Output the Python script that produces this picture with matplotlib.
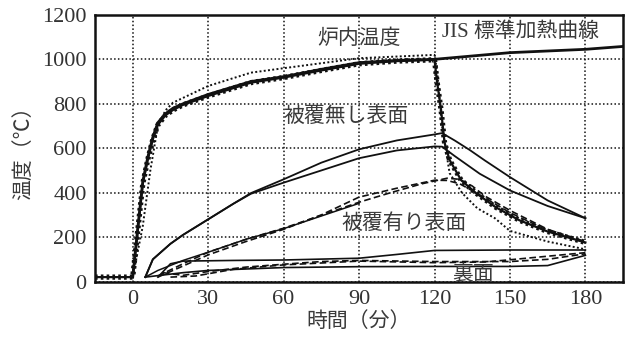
import matplotlib

matplotlib.use("Agg")
import matplotlib.pyplot as plt

plt.rcParams["font.family"] = ["Liberation Serif", "Noto Sans CJK JP", "DejaVu Sans"]

# JIS 標準加熱曲線
jis_t = [0, 2, 4, 6, 8, 10, 13, 16, 20, 30, 47, 60, 75, 90, 105, 120, 150, 180, 195]
jis_T = [20, 240, 450, 560, 650, 715, 755, 780, 800, 842, 900, 922, 955, 985, 995, 1000, 1030, 1045, 1058]

# 炉内温度 (熱電対1:太い点線)
fur1_t = [-15, 0, 2, 4, 6, 8, 10, 13, 16, 20, 30, 47, 60, 75, 90, 105, 120,
          121, 122.6, 124, 126, 130.6, 136.5, 144.4, 153.7, 165, 180]
fur1_T = [20, 20, 230, 440, 550, 640, 705, 748, 772, 795, 835, 895, 918, 950, 980, 992, 998,
          900, 773, 624, 547, 456, 398, 334, 276, 225, 176]

# 炉内温度 (熱電対2:点線)
fur2_t = [0, 4, 7, 10, 13, 16, 30, 47, 60, 90, 120, 121, 123, 126, 131, 137, 144, 150, 165, 180]
fur2_T = [20, 250, 500, 700, 770, 805, 880, 940, 960, 1005, 1020, 950, 700, 488, 398, 330, 285, 228, 180, 145]

# 被覆無し表面
bare1_t = [5, 8, 15, 20, 30, 40, 47, 60, 75, 90, 105, 120, 123, 128, 134, 140, 150, 165, 180]
bare1_T = [20, 100, 170, 210, 280, 350, 398, 460, 535, 595, 635, 662, 668, 635, 592, 545, 470, 365, 285]
bare2_t = [5, 8, 15, 20, 30, 40, 47, 60, 75, 90, 105, 120, 123, 128, 138, 150, 165, 180]
bare2_T = [20, 100, 170, 210, 280, 350, 395, 445, 500, 555, 590, 608, 607, 565, 485, 410, 340, 285]

# 被覆有り表面
coat0_t = [5, 10, 20, 30, 45, 60, 75, 90]
coat0_T = [20, 50, 95, 132, 190, 238, 295, 352]
coat1_t = [10, 20, 30, 45, 60, 75, 90, 102, 115, 125, 130, 135, 140, 150, 165, 180]
coat1_T = [25, 80, 132, 190, 240, 298, 357, 398, 440, 465, 460, 430, 385, 320, 235, 180]
coat2_t = [10, 20, 30, 45, 60, 75, 90, 105, 120, 125, 130, 138, 150, 165, 180]
coat2_T = [20, 70, 120, 180, 235, 300, 380, 420, 456, 455, 440, 390, 310, 230, 175]

# 裏面
back1_t = [10, 15, 20, 40, 60, 90, 105, 120, 150, 180]
back1_T = [20, 80, 92, 95, 97, 105, 122, 140, 142, 142]
back2_t = [5, 20, 30, 60, 90, 120, 150, 165, 180]
back2_T = [20, 40, 50, 63, 67, 68, 68, 72, 118]
back3_t = [12, 20, 30, 45, 60, 75, 90, 120, 150, 165, 180]
back3_T = [40, 28, 45, 65, 78, 90, 95, 90, 90, 100, 125]
back4_t = [15, 25, 40, 60, 90, 120, 140, 150, 180]
back4_T = [20, 25, 55, 75, 92, 85, 88, 98, 130]

x_ticks = [0, 30, 60, 90, 120, 150, 180]
y_ticks = [0, 200, 400, 600, 800, 1000, 1200]

fig = plt.figure(figsize=(6.25, 3.38), dpi=100)
ax = fig.add_axes([0.152, 0.167, 0.845, 0.789])

k = "#111111"
ax.plot(jis_t, jis_T, color=k, lw=2.0)
ax.plot(fur1_t, fur1_T, color=k, lw=1.6)
ax.plot(fur1_t, fur1_T, color=k, lw=3.8, ls=(0, (0.5, 0.6)))
ax.plot(fur2_t, fur2_T, color=k, lw=1.4, ls=(0, (1, 1.2)))
for t, T in [(bare1_t, bare1_T), (bare2_t, bare2_T)]:
    ax.plot(t, T, color=k, lw=1.3)
ax.plot(coat0_t, coat0_T, color=k, lw=1.1)
for t, T in [(coat1_t, coat1_T), (coat2_t, coat2_T)]:
    ax.plot(t, T, color=k, lw=1.2, ls=(0, (4, 2)))
for t, T in [(back1_t, back1_T), (back2_t, back2_T)]:
    ax.plot(t, T, color=k, lw=1.2)
for t, T in [(back3_t, back3_T), (back4_t, back4_T)]:
    ax.plot(t, T, color=k, lw=1.2, ls=(0, (4, 2)))

ax.set_xlim(-15, 195)
ax.set_ylim(0, 1200)
ax.set_xticks(x_ticks)
ax.set_yticks(y_ticks)
ax.tick_params(length=0, labelsize=16, pad=6, colors="#333333")
ax.grid(True, color=k, ls=(0, (1, 1.5)), lw=1.1)
for s in ax.spines.values():
    s.set_linewidth(1.8)
    s.set_color(k)

tc = "#3a3a3a"
ax.text(90, 1089, "炉内温度", fontsize=15, color=tc, ha="center", va="center")
ax.text(123, 1121, "JIS 標準加熱曲線", fontsize=15, color=tc, ha="left", va="center")
ax.text(60, 741, "被覆無し表面", fontsize=15, color=tc, ha="left", va="center")
ax.text(83, 258, "被覆有り表面", fontsize=15, color=tc, ha="left", va="center")
ax.text(127, 30, "裏面", fontsize=15, color=tc, ha="left", va="center")

ax.set_xlabel("時間（分）", fontsize=15, color=tc, labelpad=2)
ax.set_ylabel("温度（℃）", fontsize=15, color=tc, labelpad=6)

fig.savefig("out.png", dpi=100)
